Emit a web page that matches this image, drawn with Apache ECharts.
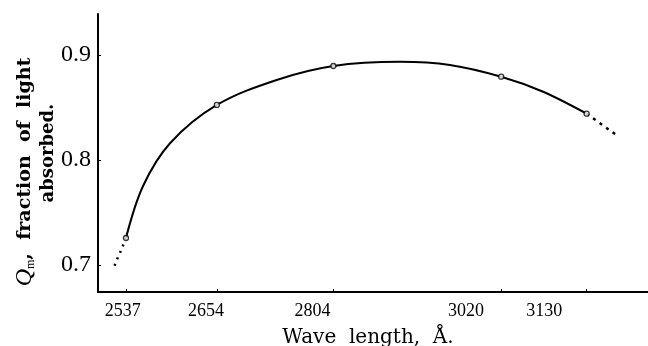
<!DOCTYPE html>
<html>
<head>
<meta charset="utf-8">
<script src="https://cdn.jsdelivr.net/npm/echarts@6/dist/echarts.min.js"></script>
<style>
  html, body { margin: 0; padding: 0; background: #fff; }
  #chart { width: 648px; height: 346px; }
</style>
</head>
<body>
<div id="chart"></div>
<script>
// wave lengths (Å) that carry a label / a measured point
const waveLengths = [2537, 2654, 2804, 3020, 3130];
// measured Qm at those wave lengths (open circles)
const measured = [0.7257, 0.8524, 0.8895, 0.8793, 0.8441];
// the drawn solid curve
const curveX = [2537, 2559, 2594, 2654, 2731, 2804, 2890, 2954, 3020, 3074, 3130];
const curveY = [0.7257, 0.7752, 0.8162, 0.8524, 0.8762, 0.8895, 0.8935, 0.8905, 0.8793, 0.8650, 0.8441];
// dotted extrapolations at both ends
const leftDotX = [2537, 2531, 2527, 2520];
const leftDotY = [0.7257, 0.7143, 0.7080, 0.6952];
const rightDotX = [3130, 3170];
const rightDotY = [0.8441, 0.8229];
const yTicks = [0.7, 0.8, 0.9];

const pairs = (xs, ys) => xs.map((x, i) => [x, ys[i]]);

const chart = echarts.init(document.getElementById("chart"));
const serif = "Liberation Serif";

chart.setOption({
  animation: false,
  grid: { left: 98, right: 0, top: 14, bottom: 54 },
  xAxis: [
    {
      // the real scale: line, ticks and data
      type: "value",
      min: 2501,
      max: 3209,
      axisLine: { lineStyle: { color: "#000", width: 2 } },
      axisTick: { inside: true, length: 3, customValues: waveLengths, lineStyle: { color: "#000" } },
      axisLabel: { show: false },
      splitLine: { show: false }
    },
    {
      // labels as printed in the figure (slightly offset from the ticks)
      type: "value",
      position: "bottom",
      min: 2502,
      max: 3276,
      axisLine: { show: false },
      axisTick: { show: false },
      splitLine: { show: false },
      axisLabel: {
        customValues: waveLengths,
        color: "#000",
        fontFamily: serif,
        fontSize: 18,
        margin: 10,
        formatter: (v) => String(v)
      }
    }
  ],
  yAxis: {
    type: "value",
    min: 0.6743,
    max: 0.939,
    axisLine: { show: true, lineStyle: { color: "#000", width: 2 } },
    axisTick: { show: true, inside: true, length: 3, customValues: yTicks, lineStyle: { color: "#000" } },
    splitLine: { show: false },
    axisLabel: {
      customValues: yTicks,
      color: "#000",
      fontFamily: serif,
      fontSize: 24,
      margin: 7,
      formatter: (v) => v.toFixed(1)
    }
  },
  series: [
    {
      type: "line",
      data: pairs(curveX, curveY),
      smooth: 0.35,
      showSymbol: false,
      lineStyle: { color: "#000", width: 2 },
      z: 2
    },
    {
      type: "line",
      data: pairs(leftDotX, leftDotY),
      showSymbol: false,
      lineStyle: { color: "#000", width: 2.5, type: [2, 5] },
      z: 2
    },
    {
      type: "line",
      data: pairs(rightDotX, rightDotY),
      showSymbol: false,
      lineStyle: { color: "#000", width: 2.5, type: [3, 5] },
      z: 2
    },
    {
      type: "scatter",
      data: pairs(waveLengths, measured),
      symbol: "circle",
      symbolSize: 5,
      itemStyle: { color: "#fff", borderColor: "#000", borderWidth: 1.3 },
      z: 3
    }
  ],
  graphic: [
    {
      type: "text",
      x: 25,
      y: 172,
      rotation: Math.PI / 2,
      style: {
        text: "{q|Q}{s|m}{t|,  fraction  of  light}",
        align: "center",
        verticalAlign: "middle",
        fill: "#000",
        rich: {
          q: { fontFamily: serif, fontStyle: "italic", fontSize: 24, fill: "#000" },
          s: { fontFamily: serif, fontSize: 12, fill: "#000", verticalAlign: "bottom", padding: [10, 0, 0, 0] },
          t: { fontFamily: "DejaVu Serif", fontWeight: "bold", fontSize: 19, fill: "#000" }
        }
      }
    },
    {
      type: "text",
      x: 48,
      y: 153,
      rotation: Math.PI / 2,
      style: {
        text: "absorbed.",
        align: "center",
        verticalAlign: "middle",
        fill: "#000",
        font: "bold 18px 'DejaVu Serif'"
      }
    },
    {
      type: "text",
      x: 368,
      y: 338,
      style: {
        text: "Wave  length,  Å.",
        align: "center",
        verticalAlign: "middle",
        fill: "#000",
        font: "20px 'DejaVu Serif'"
      }
    }
  ]
});
</script>
</body>
</html>
